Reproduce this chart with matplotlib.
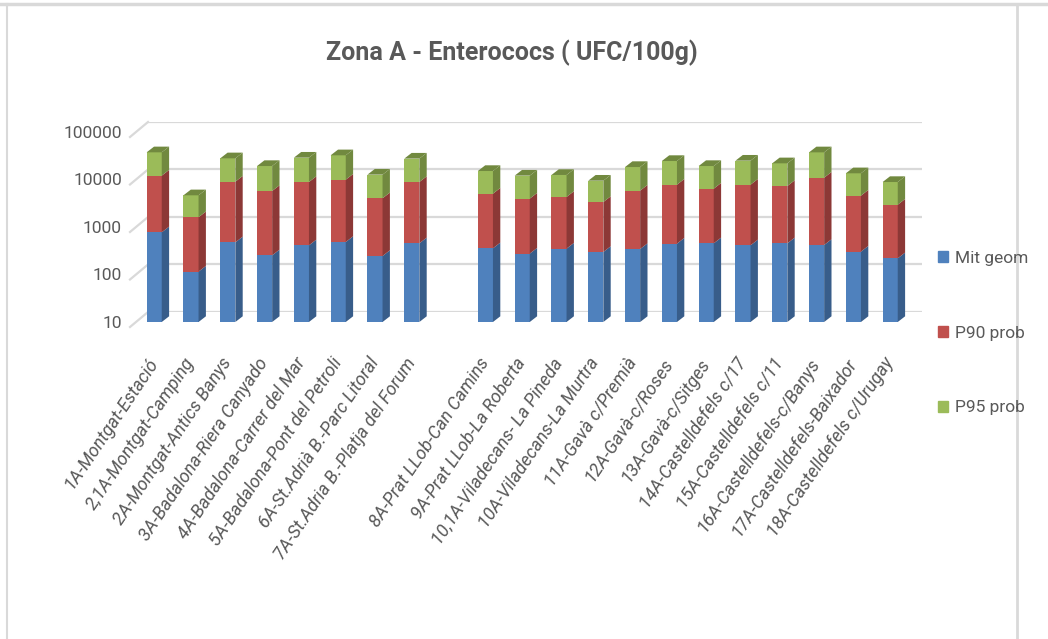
import matplotlib
matplotlib.use("Agg")
import matplotlib.pyplot as plt
from matplotlib import font_manager
from matplotlib.patches import Polygon, Patch
from matplotlib.lines import Line2D

# font: want something narrow like Calibri
names = {f.name for f in font_manager.fontManager.ttflist}
base = 'Liberation Sans Narrow' if 'Liberation Sans Narrow' in names else 'Roboto'
plt.rcParams['font.family'] = [base, 'DejaVu Sans']

# data (UFC/100g) - None = empty slot between groups
labels = ["1A-Montgat-Estació", "2,1A-Montgat-Camping", "2A-Montgat-Antics Banys",
          "3A-Badalona-Riera Canyado", "4A-Badalona-Carrer del Mar",
          "5A-Badalona-Pont del Petroli", "6A-St.Adrià B.-Parc Litoral",
          "7A-St.Adria B.-Platja del Forum", "",
          "8A-Prat LLob-Can Camins", "9A-Prat LLob-La Roberta",
          "10,1A-Viladecans- La Pineda", "10A-Viladecans-La Murtra",
          "11A-Gavà c/Premià", "12A-Gavà-c/Roses", "13A-Gavà-c/Sitges",
          "14A-Castelldefels c/17", "15A-Castelldefels c/11",
          "16A-Castelldefels-c/Banys", "17A-Castelldefels-Baixador",
          "18A-Castelldefels c/Urugay"]
mit_geom = [773, 115, 475, 253, 411, 483, 245, 453, None,
            356, 275, 350, 298, 344, 446, 453, 411, 453, 418, 303, 219]
p90_prob = [11300, 1490, 8530, 5480, 8440, 9430, 3780, 8400, None,
            4680, 3680, 3940, 3060, 5480, 7330, 5960, 7370, 6840, 10500, 4270, 2730]
p95_prob = [25250, 3040, 18900, 13470, 19950, 22390, 8630, 18650, None,
            10060, 8100, 8160, 6080, 12480, 16720, 12790, 17120, 14610, 26360, 8930, 5900]

series = [("Mit geom", mit_geom, "#4F81BD", "#385D8A"),
          ("P90 prob", p90_prob, "#C0504D", "#8C3836"),
          ("P95 prob", p95_prob, "#9BBB59", "#71893F")]

grey = "#595959"
W, H = 1048, 639
fig = plt.figure(figsize=(W / 100, H / 100), dpi=100)

def px_box(l, r, bot, top):
    return [l / W, 1 - bot / H, (r - l) / W, (bot - top) / H]

# back wall with the gridlines
axb = fig.add_axes(px_box(148, 922, 312, 122))
axb.set_yscale('log')
axb.set_ylim(10, 100000)
axb.set_xlim(0, 1)
axb.set_yticks([10, 100, 1000, 10000, 100000])
axb.tick_params(left=False, bottom=False, labelleft=False, labelbottom=False)
axb.minorticks_off()
axb.grid(axis='y', color="#D9D9D9", lw=1.6)
for s in axb.spines.values():
    s.set_visible(False)
# side wall diagonals
for v in [10, 100, 1000, 10000, 100000]:
    axb.plot([0, -18 / 774], [v, v / 10 ** (15 / 47.5)], color="#D9D9D9",
             lw=1.6, clip_on=False)

# front plane with bars
ax = fig.add_axes(px_box(135.8, 908.6, 322, 132))
ax.patch.set_alpha(0)
ax.set_yscale('log')
ax.set_ylim(10, 100000)
ax.set_xlim(-0.5, len(labels) - 0.5)
for s in ax.spines.values():
    s.set_visible(False)

w = 0.41
dd = 0.2            # depth in category units
f = 10 ** 0.12      # depth in log units

for i, lab in enumerate(labels):
    if mit_geom[i] is None:
        continue
    bottom = 10
    for k, (name, vals, col, dark) in enumerate(series):
        top = (mit_geom[i] if k == 0 else bottom + vals[i])
        ax.bar(i, top - bottom, bottom=bottom, width=w, color=col, lw=0, zorder=3)
        xr = i + w / 2
        ax.add_patch(Polygon([(xr, bottom), (xr + dd, bottom * f), (xr + dd, top * f), (xr, top)],
                             closed=True, fc=dark, lw=0, zorder=3))
        if k == len(series) - 1:
            xl = i - w / 2
            ax.add_patch(Polygon([(xl, top), (xr, top), (xr + dd, top * f), (xl + dd, top * f)],
                                 closed=True, fc=dark, lw=0, zorder=3))
        bottom = top

ax.set_yticks([10, 100, 1000, 10000, 100000])
ax.set_yticklabels(["10", "100", "1000", "10000", "100000"])
ax.minorticks_off()
ax.set_xticks(range(len(labels)))
ax.set_xticklabels(labels, rotation=56, ha='right', va='center',
                   rotation_mode='anchor', fontstyle='italic', fontsize=13, color=grey)
ax.tick_params(axis='x', length=0, pad=27)
ax.tick_params(axis='y', length=0, pad=10, labelsize=12.5, labelcolor=grey)

fig.text(0.488, 0.918, "Zona A - Enterococs ( UFC/100g)", ha='center', va='center',
         fontsize=18, fontweight='bold', color=grey)

handles = [Patch(color=c, label=n) for n, v, c, d in series]
fig.legend(handles=handles, loc='upper left', bbox_to_anchor=(922 / W, 1 - 235 / H),
           frameon=False, fontsize=12.5, labelcolor=grey, handlelength=0.6,
           handleheight=0.6, handletextpad=0.4, labelspacing=3.45)

# sheet borders around the chart
fig.add_artist(Line2D([0, 1], [1 - 4 / H, 1 - 4 / H], color="#D9D9D9", lw=2.5))
fig.add_artist(Line2D([7 / W, 7 / W], [0, 1 - 4 / H], color="#D9D9D9", lw=1.5))
fig.add_artist(Line2D([1017 / W, 1017 / W], [0, 1 - 4 / H], color="#D9D9D9", lw=2))

fig.savefig("out.png", dpi=100)
